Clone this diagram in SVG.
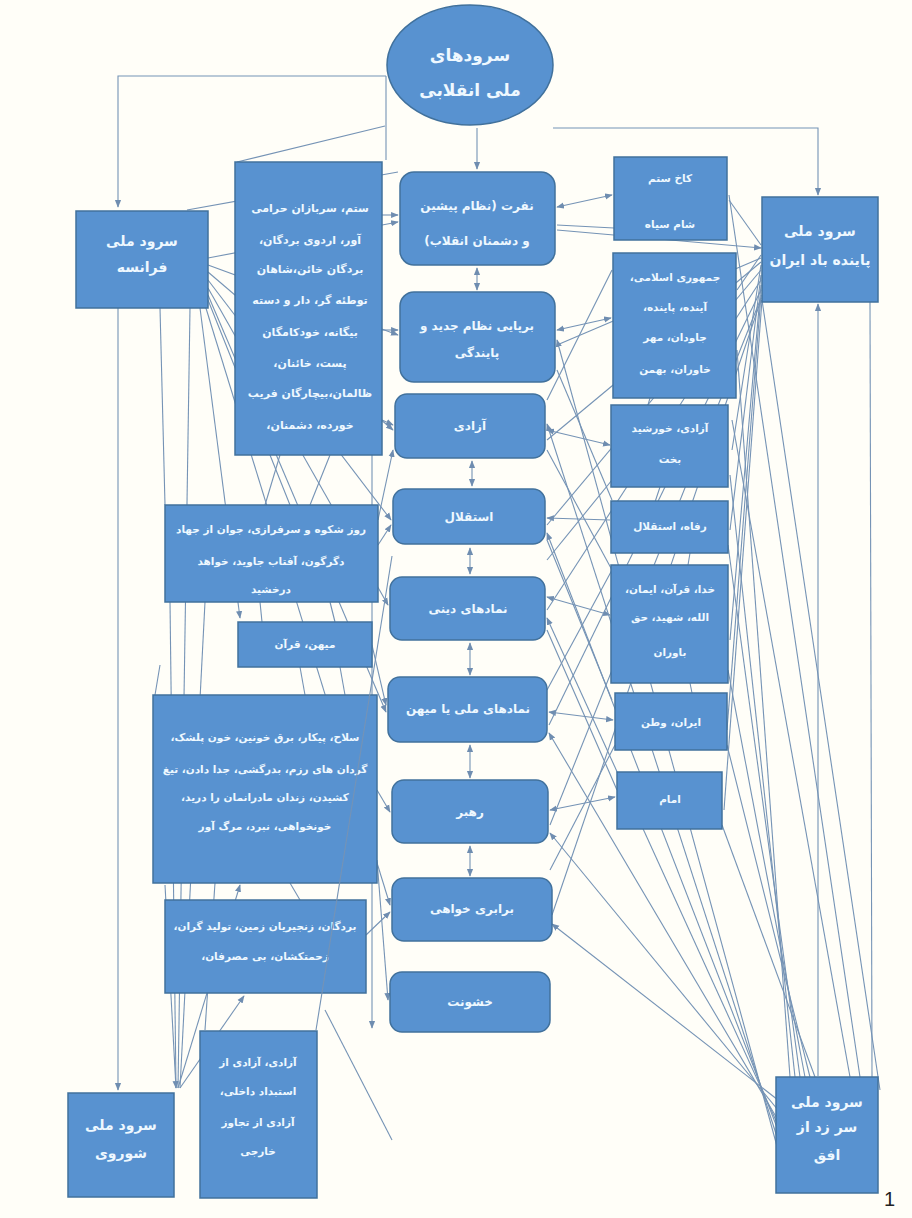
<svg xmlns="http://www.w3.org/2000/svg" width="912" height="1218" viewBox="0 0 912 1218">
<style>
.n{fill:#5892d0;stroke:#41719c;stroke-width:1.5}
.t{font-family:"DejaVu Sans",sans-serif;font-size:11px;font-weight:bold;fill:#eef8ff;text-anchor:middle;direction:rtl}
.s10{font-size:10.5px}
.s12{font-size:12px}
.s13{font-size:14px}
.c line,.c polyline{stroke:#7593b5;stroke-width:1.1;fill:none}
.a{marker-end:url(#ar)}
.b{marker-start:url(#as);marker-end:url(#ar)}
</style>
<defs>
<marker id="ar" viewBox="0 0 10 10" refX="9" refY="5" markerWidth="7" markerHeight="7" orient="auto-start-reverse"><path d="M0,1 L10,5 L0,9 z" fill="#6f8db0"/></marker>
<marker id="as" viewBox="0 0 10 10" refX="9" refY="5" markerWidth="7" markerHeight="7" orient="auto-start-reverse"><path d="M0,1 L10,5 L0,9 z" fill="#6f8db0"/></marker>
</defs>
<rect width="912" height="1218" fill="#fffef8"/>
<g id="connectors" class="c">
<polyline class="a" points="386,76 118,76 118,207"/>
<line x1="386" y1="76" x2="386" y2="160"/>
<line x1="385" y1="126" x2="237" y2="162"/>
<line class="a" x1="477" y1="128" x2="477" y2="169"/>
<polyline class="a" points="553,128 818,128 818,195"/>
<line x1="187" y1="210" x2="398" y2="172"/>
<line class="a" x1="208" y1="258" x2="398" y2="222"/>
<line class="a" x1="208" y1="265" x2="398" y2="335"/>
<line class="a" x1="208" y1="272" x2="393" y2="430"/>
<line class="a" x1="208" y1="280" x2="391" y2="520"/>
<line class="a" x1="208" y1="288" x2="388" y2="605"/>
<line class="a" x1="208" y1="295" x2="386" y2="712"/>
<line class="a" x1="205" y1="305" x2="390" y2="905"/>
<line class="a" x1="200" y1="308" x2="240" y2="618"/>
<line x1="190" y1="308" x2="178" y2="1088"/>
<line class="a" x1="118" y1="308" x2="118" y2="1090"/>
<line x1="160" y1="308" x2="165" y2="505"/>
<line x1="208" y1="300" x2="290" y2="505"/>
<line class="a" x1="382" y1="215" x2="398" y2="215"/>
<line class="a" x1="382" y1="330" x2="398" y2="330"/>
<line class="a" x1="382" y1="420" x2="393" y2="425"/>
<line class="a" x1="378" y1="545" x2="391" y2="525"/>
<line class="a" x1="378" y1="520" x2="393" y2="450"/>
<line class="a" x1="372" y1="645" x2="386" y2="705"/>
<line class="a" x1="377" y1="790" x2="390" y2="812"/>
<line class="a" x1="377" y1="860" x2="388" y2="1000"/>
<line class="a" x1="366" y1="935" x2="390" y2="912"/>
<line class="a" x1="372" y1="455" x2="372" y2="1028"/>
<line class="a" x1="178" y1="1088" x2="240" y2="885"/>
<line class="a" x1="180" y1="1088" x2="244" y2="996"/>
<line class="a" x1="165" y1="885" x2="176" y2="1088"/>
<line x1="170" y1="602" x2="176" y2="1088"/>
<line x1="205" y1="602" x2="180" y2="1088"/>
<line x1="160" y1="665" x2="155" y2="695"/>
<line x1="215" y1="883" x2="205" y2="1030"/>
<line x1="290" y1="883" x2="300" y2="900"/>
<line x1="260" y1="602" x2="262" y2="622"/>
<line x1="330" y1="602" x2="335" y2="622"/>
<line x1="300" y1="667" x2="305" y2="695"/>
<line x1="340" y1="667" x2="345" y2="695"/>
<line x1="330" y1="455" x2="310" y2="505"/>
<line x1="280" y1="455" x2="265" y2="505"/>
<line class="b" x1="477" y1="268" x2="477" y2="290"/>
<line class="b" x1="472" y1="461" x2="472" y2="486"/>
<line class="b" x1="470" y1="548" x2="470" y2="574"/>
<line class="b" x1="470" y1="643" x2="470" y2="675"/>
<line class="b" x1="470" y1="745" x2="470" y2="778"/>
<line class="b" x1="470" y1="846" x2="470" y2="876"/>
<line class="b" x1="557" y1="207" x2="612" y2="195"/>
<line x1="557" y1="225" x2="614" y2="228"/>
<line class="b" x1="557" y1="330" x2="611" y2="318"/>
<line class="b" x1="547" y1="430" x2="610" y2="445"/>
<line class="a" x1="610" y1="520" x2="547" y2="518"/>
<line class="b" x1="547" y1="597" x2="610" y2="615"/>
<line class="b" x1="549" y1="712" x2="613" y2="720"/>
<line class="b" x1="550" y1="810" x2="615" y2="797"/>
<line x1="729" y1="200" x2="761" y2="245"/>
<line class="a" x1="557" y1="230" x2="761" y2="248"/>
<line x1="737" y1="290" x2="761" y2="255"/>
<line x1="557" y1="345" x2="761" y2="258"/>
<line x1="547" y1="440" x2="761" y2="262"/>
<line x1="732" y1="450" x2="761" y2="265"/>
<line x1="547" y1="525" x2="761" y2="270"/>
<line x1="730" y1="530" x2="761" y2="275"/>
<line x1="547" y1="610" x2="761" y2="280"/>
<line x1="730" y1="640" x2="761" y2="285"/>
<line x1="549" y1="725" x2="761" y2="290"/>
<line x1="727" y1="730" x2="761" y2="295"/>
<line x1="550" y1="825" x2="761" y2="298"/>
<line x1="552" y1="915" x2="761" y2="300"/>
<line x1="724" y1="810" x2="762" y2="300"/>
<line class="a" x1="778" y1="1150" x2="557" y2="340"/>
<line class="a" x1="778" y1="1140" x2="547" y2="424"/>
<line class="a" x1="778" y1="1130" x2="547" y2="533"/>
<line class="a" x1="778" y1="1125" x2="547" y2="618"/>
<line class="a" x1="778" y1="1120" x2="549" y2="733"/>
<line class="a" x1="778" y1="1110" x2="550" y2="833"/>
<line class="a" x1="778" y1="1100" x2="552" y2="924"/>
<line x1="737" y1="350" x2="790" y2="1077"/>
<line x1="730" y1="475" x2="795" y2="1077"/>
<line x1="728" y1="545" x2="800" y2="1077"/>
<line x1="728" y1="670" x2="805" y2="1077"/>
<line x1="727" y1="745" x2="810" y2="1077"/>
<line x1="722" y1="825" x2="815" y2="1077"/>
<line class="a" x1="818" y1="1076" x2="818" y2="304"/>
<line x1="762" y1="300" x2="880" y2="1090"/>
<line x1="729" y1="195" x2="860" y2="1077"/>
<line x1="732" y1="420" x2="850" y2="1077"/>
<line x1="870" y1="302" x2="872" y2="1077"/>
<line x1="557" y1="370" x2="612" y2="500"/>
<line x1="547" y1="450" x2="612" y2="570"/>
<line x1="547" y1="540" x2="612" y2="700"/>
<line x1="547" y1="630" x2="617" y2="790"/>
<line x1="612" y1="270" x2="547" y2="400"/>
<line x1="612" y1="480" x2="547" y2="560"/>
<line x1="612" y1="570" x2="547" y2="690"/>
<line x1="615" y1="745" x2="550" y2="870"/>
<line x1="650" y1="398" x2="648" y2="405"/>
<line x1="660" y1="487" x2="655" y2="502"/>
<line x1="690" y1="553" x2="688" y2="565"/>
<line x1="690" y1="683" x2="692" y2="693"/>
</g>
<g id="n-top"><ellipse class="n" cx="470" cy="65" rx="83" ry="60"/><text class="t" x="470" y="61" style="font-size:17px">سرودهای</text><text class="t" x="470" y="96" style="font-size:17px">ملی انقلابی</text></g>
<g id="n-france"><rect class="n" x="76" y="211" width="132" height="97"/><text class="t s13" x="142" y="246">سرود ملی</text><text class="t s13" x="142" y="272">فرانسه</text></g>
<g id="n-tall"><rect class="n" x="235" y="162" width="147" height="293"/>
<text class="t" x="310" y="212">ستم، سربازان حرامی</text>
<text class="t" x="310" y="244">آور، اردوی بردگان،</text>
<text class="t" x="310" y="273">بردگان خائن،شاهان</text>
<text class="t" x="310" y="304">توطئه گر، دار و دسته</text>
<text class="t" x="310" y="336">بیگانه، خودکامگان</text>
<text class="t" x="310" y="367">پست، خائنان،</text>
<text class="t" x="310" y="397">ظالمان،بیچارگان فریب</text>
<text class="t" x="310" y="429">خورده، دشمنان،</text></g>
<g id="n-c1"><rect class="n" x="400" y="172" width="155" height="93" rx="14"/><text class="t s12" x="477" y="210">نفرت (نظام پیشین</text><text class="t s12" x="477" y="245">و دشمنان انقلاب)</text></g>
<g id="n-c2"><rect class="n" x="400" y="292" width="155" height="90" rx="14"/><text class="t s12" x="477" y="330">برپایی نظام جدید و</text><text class="t s12" x="477" y="357">پایندگی</text></g>
<g id="n-c3"><rect class="n" x="395" y="394" width="150" height="64" rx="12"/><text class="t s12" x="470" y="430">آزادی</text></g>
<g id="n-c4"><rect class="n" x="393" y="489" width="152" height="55" rx="12"/><text class="t s12" x="469" y="521">استقلال</text></g>
<g id="n-c5"><rect class="n" x="390" y="577" width="155" height="63" rx="12"/><text class="t s12" x="468" y="613">نمادهای دینی</text></g>
<g id="n-c6"><rect class="n" x="388" y="677" width="159" height="65" rx="12"/><text class="t s12" x="468" y="713">نمادهای ملی یا میهن</text></g>
<g id="n-c7"><rect class="n" x="392" y="780" width="156" height="63" rx="12"/><text class="t s12" x="470" y="816">رهبر</text></g>
<g id="n-c8"><rect class="n" x="392" y="878" width="160" height="63" rx="12"/><text class="t s12" x="472" y="913">برابری خواهی</text></g>
<g id="n-c9"><rect class="n" x="390" y="972" width="160" height="60" rx="12"/><text class="t s12" x="470" y="1006">خشونت</text></g>
<g id="n-r1"><rect class="n" x="614" y="157" width="113" height="83"/><text class="t s10" x="670" y="182">کاخ ستم</text><text class="t s10" x="670" y="228">شام سیاه</text></g>
<g id="n-rasa"><rect class="n" x="762" y="197" width="116" height="105"/><text class="t s13" x="820" y="236">سرود ملی</text><text class="t s13" x="820" y="265">پاینده باد ایران</text></g>
<g id="n-r2"><rect class="n" x="613" y="253" width="123" height="145"/>
<text class="t s10" x="675" y="281">جمهوری اسلامی،</text>
<text class="t s10" x="675" y="311">آینده، پاینده،</text>
<text class="t s10" x="675" y="341">جاودان، مهر</text>
<text class="t s10" x="675" y="373">خاوران، بهمن</text></g>
<g id="n-r3"><rect class="n" x="611" y="405" width="117" height="82"/><text class="t s10" x="670" y="432">آزادی، خورشید</text><text class="t s10" x="670" y="463">بخت</text></g>
<g id="n-r4"><rect class="n" x="611" y="501" width="117" height="52"/><text class="t s10" x="670" y="530">رفاه، استقلال</text></g>
<g id="n-r5"><rect class="n" x="611" y="565" width="117" height="118"/>
<text class="t s10" x="670" y="593">خدا، قرآن، ایمان،</text>
<text class="t s10" x="670" y="621">الله، شهید، حق</text>
<text class="t s10" x="670" y="656">باوران</text></g>
<g id="n-r6"><rect class="n" x="615" y="693" width="112" height="57"/><text class="t s10" x="671" y="726">ایران، وطن</text></g>
<g id="n-r7"><rect class="n" x="617" y="772" width="105" height="57"/><text class="t s10" x="670" y="803">امام</text></g>
<g id="n-l1"><rect class="n" x="165" y="505" width="213" height="97"/>
<text class="t s10" x="271" y="533">روز شکوه و سرفرازی، جوان از جهاد</text>
<text class="t s10" x="271" y="565">دگرگون، آفتاب جاوید، خواهد</text>
<text class="t s10" x="271" y="593">درخشید</text></g>
<g id="n-l2"><rect class="n" x="238" y="622" width="134" height="45"/><text class="t s10" x="305" y="648">میهن، قرآن</text></g>
<g id="n-l3"><rect class="n" x="153" y="695" width="224" height="188"/>
<text class="t s10" x="265" y="741">سلاح، پیکار، برق خونین، خون پلشک،</text>
<text class="t s10" x="265" y="773">گردان های رزم، بدرگشی، جدا دادن، تیغ</text>
<text class="t s10" x="265" y="801">کشیدن، زندان مادرانمان را درید،</text>
<text class="t s10" x="265" y="830">خونخواهی، نبرد، مرگ آور</text></g>
<g id="n-l4"><rect class="n" x="165" y="900" width="201" height="93"/>
<text class="t s10" x="265" y="930">بردگان، زنجیریان زمین، تولید گران،</text>
<text class="t s10" x="265" y="960">زحمتکشان، بی مصرفان،</text></g>
<g id="n-l5"><rect class="n" x="200" y="1031" width="117" height="167"/>
<text class="t s10" x="258" y="1066">آزادی، آزادی از</text>
<text class="t s10" x="258" y="1095">استبداد داخلی،</text>
<text class="t s10" x="258" y="1126">آزادی از تجاوز</text>
<text class="t s10" x="258" y="1155">خارجی</text></g>
<g id="n-soviet"><rect class="n" x="68" y="1093" width="106" height="104"/><text class="t s13" x="121" y="1130">سرود ملی</text><text class="t s13" x="121" y="1158">شوروی</text></g>
<g id="n-sarzad"><rect class="n" x="776" y="1077" width="102" height="116"/>
<text class="t s13" x="827" y="1107">سرود ملی</text>
<text class="t s13" x="827" y="1132">سر زد از</text>
<text class="t s13" x="827" y="1160">افق</text></g>
<g id="overlay-connectors" class="c">
<line x1="316" y1="1030" x2="392" y2="556"/>
<line x1="325" y1="1010" x2="392" y2="1140"/>
</g>
<text x="884" y="1206" style="font-family:'Liberation Sans',sans-serif;font-size:20px;fill:#222">1</text>
</svg>
